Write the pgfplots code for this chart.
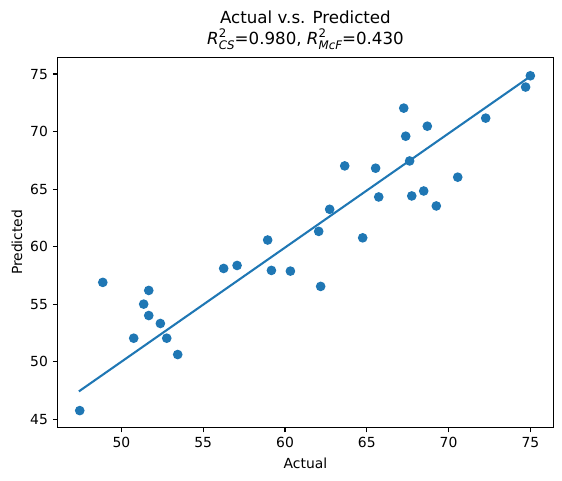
\documentclass[border=0pt]{standalone}
\usepackage{pgfplots}
\pgfplotsset{compat=1.18}
\usepackage{fontspec}
\setmainfont{DejaVu Sans}
\definecolor{tabblue}{HTML}{1F77B4}

\pgfplotstableread{
actual predicted
47.45 45.76
48.86 56.90
50.75 52.05
51.36 55.01
51.67 56.20
51.67 54.02
52.38 53.33
52.77 52.05
53.44 50.63
56.25 58.11
57.07 58.37
58.94 60.58
59.17 57.94
60.33 57.88
62.18 56.55
64.75 60.77
62.06 61.33
75.00 74.85
74.71 73.87
72.27 71.17
67.26 72.04
68.70 70.47
67.38 69.60
67.62 67.45
63.65 67.02
65.54 66.82
70.56 66.04
65.73 64.32
67.75 64.41
68.48 64.84
69.25 63.54
62.73 63.25
}\datatable

\pgfplotstableread{
actual fitted
47.45 47.48
75.00 74.80
}\fittable

\begin{document}
\begin{tikzpicture}
\useasboundingbox (-41.5bp,-37.9bp) rectangle (363.1bp,307.7bp);
\begin{axis}[
  at={(0,0)}, anchor=south west,
  scale only axis, width=356.8bp, height=266.4bp,
  xmin=46.1, xmax=76.4, ymin=44.3, ymax=76.45,
  xtick={50,55,...,75}, ytick={45,50,...,75},
  tick align=outside, tick pos=left,
  major tick length=3.5bp,
  axis line style={line width=0.8bp},
  every tick/.style={black, line width=0.8bp},
  ticklabel style={font=\fontsize{10bp}{12bp}\selectfont},
  /pgf/number format/assume math mode=true,
  clip=false,
]
\addplot[only marks, mark=*, mark size=3bp, color=tabblue,
  mark options={line width=0.9bp, draw=tabblue, fill=tabblue}]
  table[x=actual, y=predicted] {\datatable};
\addplot[tabblue, line width=1.5bp, line cap=rect, no marks]
  table[x=actual, y=fitted] {\fittable};
\end{axis}
% axis labels and two-line title
\node[font=\fontsize{10bp}{12bp}\selectfont] at (178.4bp,-25.7bp) {Actual};
\node[font=\fontsize{10bp}{12bp}\selectfont, rotate=90] at (-29.3bp,133.2bp) {Predicted};
\node[anchor=base, font=\fontsize{12bp}{14bp}\selectfont] at (178.4bp,291.1bp) {Actual v.s. Predicted};
\node[anchor=base, font=\fontsize{12bp}{14bp}\selectfont] at (178.4bp,275.3bp)
  {\textit{R}\rlap{\raisebox{0.85ex}{\fontsize{8.5bp}{9bp}\selectfont 2}}\raisebox{-0.45ex}{\fontsize{8.5bp}{9bp}\selectfont\itshape CS}=0.980, \textit{R}\rlap{\raisebox{0.85ex}{\fontsize{8.5bp}{9bp}\selectfont 2}}\raisebox{-0.45ex}{\fontsize{8.5bp}{9bp}\selectfont\itshape McF}=0.430};
\end{tikzpicture}
\end{document}
